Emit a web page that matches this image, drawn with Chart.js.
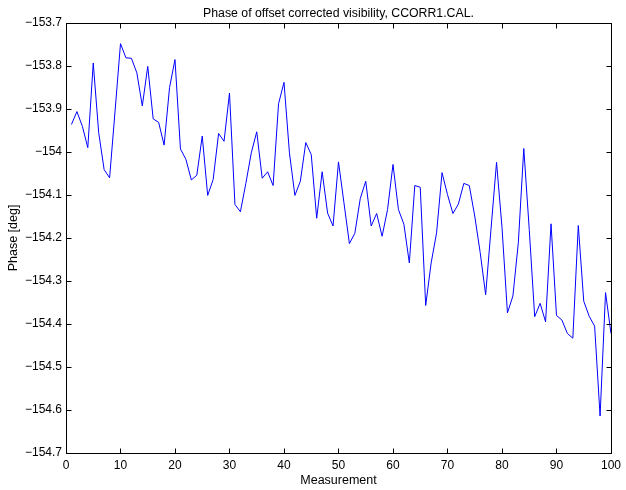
<!DOCTYPE html>
<html>
<head>
<meta charset="utf-8">
<title>Phase of offset corrected visibility</title>
<script src="https://cdn.jsdelivr.net/npm/chart.js@4/dist/chart.umd.min.js"></script>
<style>
  html, body { margin: 0; padding: 0; background: #fff; }
  #wrap { width: 626px; height: 490px; }
</style>
</head>
<body>
<div id="wrap"><canvas id="phaseChart" width="626" height="490"></canvas></div>
<script>
// Measurement index and corrected phase (deg) per measurement
const measurements = [
  1, 2, 3, 4, 5, 6, 7, 8, 9, 10, 11, 12, 13, 14, 15, 16, 17, 18, 19, 20,
  21, 22, 23, 24, 25, 26, 27, 28, 29, 30, 31, 32, 33, 34, 35, 36, 37, 38, 39, 40,
  41, 42, 43, 44, 45, 46, 47, 48, 49, 50, 51, 52, 53, 54, 55, 56, 57, 58, 59, 60,
  61, 62, 63, 64, 65, 66, 67, 68, 69, 70, 71, 72, 73, 74, 75, 76, 77, 78, 79, 80,
  81, 82, 83, 84, 85, 86, 87, 88, 89, 90, 91, 92, 93, 94, 95, 96, 97, 98, 99, 100
];
const phaseDeg = [
  -153.936, -153.906, -153.940, -153.990, -153.793, -153.955, -154.041, -154.060, -153.905, -153.748,
  -153.781, -153.782, -153.816, -153.893, -153.801, -153.923, -153.931, -153.984, -153.850, -153.785,
  -153.993, -154.017, -154.065, -154.054, -153.963, -154.101, -154.064, -153.957, -153.975, -153.863,
  -154.122, -154.139, -154.073, -154.002, -153.953, -154.061, -154.046, -154.078, -153.888, -153.838,
  -154.002, -154.101, -154.068, -153.978, -154.006, -154.154, -154.046, -154.142, -154.172, -154.023,
  -154.118, -154.213, -154.189, -154.108, -154.068, -154.172, -154.143, -154.196, -154.134, -154.029,
  -154.134, -154.168, -154.258, -154.078, -154.082, -154.357, -154.258, -154.188, -154.048, -154.099,
  -154.143, -154.121, -154.073, -154.078, -154.149, -154.234, -154.332, -154.177, -154.024, -154.175,
  -154.374, -154.335, -154.211, -153.992, -154.180, -154.383, -154.352, -154.395, -154.167, -154.380,
  -154.391, -154.422, -154.433, -154.171, -154.347, -154.382, -154.405, -154.614, -154.327, -154.422
];

// Axis ranges and tick spacing
const xRange = [0, 100];
const xStep = 10;
const yRange = [-154.7, -153.7];
const yStep = 0.1;

const titleText = 'Phase of offset corrected visibility, CCORR1.CAL.';
const FONT = '"Liberation Sans", Arial, Helvetica, sans-serif';

// Box around the plot area with inward tick marks on all four sides, plus the title
const boxAxes = {
  id: 'boxAxes',
  afterDraw(chart) {
    const { ctx, chartArea: a, scales } = chart;
    const L = Math.round(a.left) + 0.5, R = Math.round(a.right) + 0.5;
    const T = Math.round(a.top) + 0.5, B = Math.round(a.bottom) + 0.5;
    const len = 5;
    ctx.save();
    ctx.strokeStyle = '#000';
    ctx.lineWidth = 1;
    ctx.beginPath();
    scales.x.ticks.forEach(t => {
      const px = Math.round(scales.x.getPixelForValue(t.value)) + 0.5;
      ctx.moveTo(px, B); ctx.lineTo(px, B - len);
      ctx.moveTo(px, T); ctx.lineTo(px, T + len);
    });
    scales.y.ticks.forEach(t => {
      const py = Math.round(scales.y.getPixelForValue(t.value)) + 0.5;
      ctx.moveTo(L, py); ctx.lineTo(L + len, py);
      ctx.moveTo(R, py); ctx.lineTo(R - len, py);
    });
    ctx.stroke();
    ctx.strokeRect(L, T, R - L, B - T);

    ctx.fillStyle = '#000';
    ctx.font = '12.3px ' + FONT;
    ctx.textAlign = 'center';
    ctx.textBaseline = 'alphabetic';
    ctx.fillText(titleText, (a.left + a.right) / 2, 17);
    ctx.restore();
  }
};

function fmtTick(v) {
  const r = Math.round(v * 10) / 10;
  return String(r).replace('-', '\u2212');
}

const ctx = document.getElementById('phaseChart').getContext('2d');
new Chart(ctx, {
  type: 'line',
  data: {
    datasets: [{
      data: measurements.map((m, i) => ({ x: m, y: phaseDeg[i] })),
      borderColor: '#0000ff',
      borderWidth: 1,
      pointRadius: 0,
      tension: 0,
      fill: false
    }]
  },
  options: {
    responsive: false,
    animation: false,
    devicePixelRatio: 1,
    layout: { padding: { top: 23, right: 15, left: 0, bottom: 0 } },
    plugins: {
      legend: { display: false },
      title: { display: false },
      tooltip: { enabled: false }
    },
    scales: {
      x: {
        type: 'linear',
        min: xRange[0],
        max: xRange[1],
        afterFit(scale) { scale.height = 37; },
        border: { display: false },
        grid: { drawOnChartArea: false, drawTicks: false },
        ticks: {
          stepSize: xStep,
          color: '#000',
          padding: 5,
          maxRotation: 0,
          font: { family: FONT, size: 12 },
          callback: v => fmtTick(v)
        },
        title: {
          display: true,
          text: 'Measurement',
          color: '#000',
          font: { family: FONT, size: 12.5 },
          padding: { top: 0, bottom: 2 }
        }
      },
      y: {
        min: yRange[0],
        max: yRange[1],
        afterFit(scale) { scale.width = 66; },
        border: { display: false },
        grid: { drawOnChartArea: false, drawTicks: false },
        ticks: {
          stepSize: yStep,
          color: '#000',
          padding: 4,
          font: { family: FONT, size: 12 },
          callback: v => fmtTick(v)
        },
        title: {
          display: true,
          text: 'Phase [deg]',
          color: '#000',
          font: { family: FONT, size: 12.5 },
          padding: { top: 6, bottom: 0 }
        }
      }
    }
  },
  plugins: [boxAxes]
});
</script>
</body>
</html>
